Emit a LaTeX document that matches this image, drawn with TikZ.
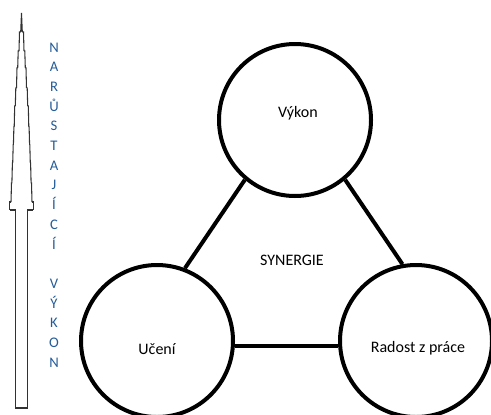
\documentclass[tikz,border=0pt]{standalone}
\usepackage{fontspec}
\setmainfont{Carlito}
\usepackage{tikz}
\usetikzlibrary{calc, positioning}
\definecolor{capblue}{RGB}{36, 92, 152}
\definecolor{spiregray}{RGB}{50, 50, 50}

\tikzset{
	ring/.style={circle, draw, line width=3pt, minimum size=114pt, inner sep=0pt},
	link/.style={line width=3pt},
	lbl/.style={anchor=base, font=\fontsize{12}{14}\selectfont},
	vlet/.style={anchor=base, text=capblue, font=\fontsize{11}{13}\selectfont},
	spire/.style={spiregray, line width=0.8pt}
}

\begin{document}
\begin{tikzpicture}[x=0.75pt, y=-0.75pt]
	\clip (0,0) rectangle (491,414);
	\pgfmathsetmacro{\spx}{21.5}
	
	% stepped spire
	\foreach \ya/\yb/\wp/\wa/\wb in {13/32/0/0/0.8, 32/51/0.8/2/2.5, 51/68/2.5/3.3/3.8, 68/88/3.8/4.5/5, 88/106/5/5.7/6.2, 106/127/6.2/6.8/7.3, 127/145/7.3/7.6/8.1, 145/163/8.1/8.3/8.8, 163/183/8.8/9.1/9.6, 183/202/9.6/10/10.5, 202/210/10.5/11.8/11.8}
		\draw[spire] (\spx-\wp,\ya) -- (\spx-\wa,\ya) -- (\spx-\wb,\yb) (\spx+\wp,\ya) -- (\spx+\wa,\ya) -- (\spx+\wb,\yb);
	\draw[spire] (\spx-11.8,210) -- (\spx-5.8,210) -- (\spx-5.8,408) -- (\spx+5.8,408) -- (\spx+5.8,210) -- (\spx+11.8,210);
	
	% vertical letters
	\foreach \i/\ch in {0/N, 1/A, 2/R, 3/Ů, 4/S, 5/T, 6/A, 7/J, 8/Í, 9/C, 10/Í, 12/V, 13/Ý, 14/K, 15/O, 16/N}
		\node[vlet] (let\i) at (54,52+19.7*\i) {\ch};
	
	% circles
	\node[ring] (vykon) at (295,120) {};
	\node[ring] (uceni) at (157,341) {};
	\node[ring] (radost) at (416,341) {};
	
	\node[lbl] (vykon-txt) at (298,117) {Výkon};
	\node[lbl] (uceni-txt) at (157,354) {Učení};
	\node[lbl] (radost-txt) at (418,352) {Radost z práce};
	\node[lbl] (synergie) at (292,265) {SYNERGIE};
	
	\draw[link] (vykon.-130) -- (uceni.69);
	\draw[link] (vykon.-50) -- (radost.100);
	\draw[link] (uceni.-4) -- (radost.184);
\end{tikzpicture}
\end{document}
